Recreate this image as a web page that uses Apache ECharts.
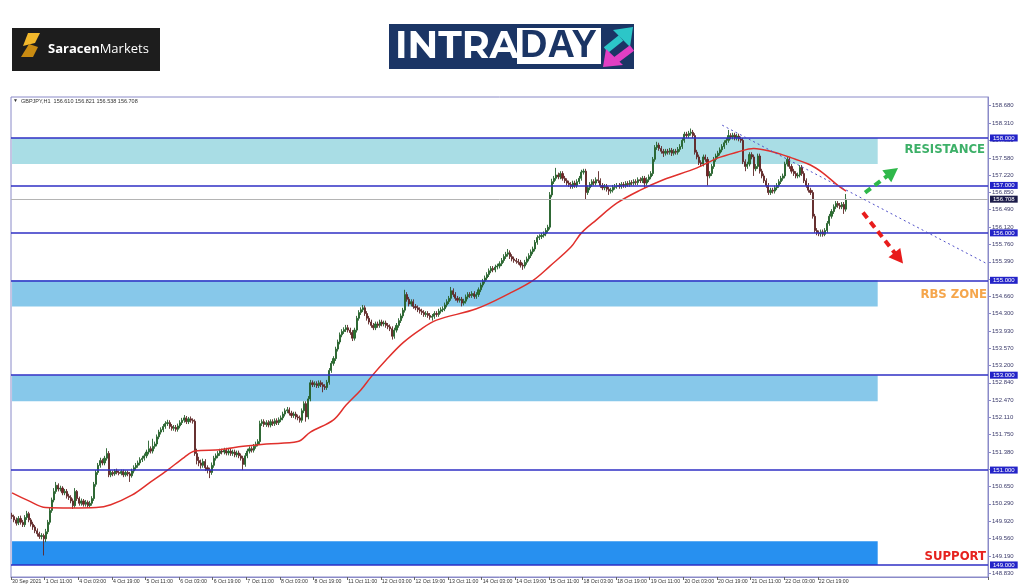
<!DOCTYPE html>
<html><head><meta charset="utf-8">
<script src="https://cdn.jsdelivr.net/npm/echarts@6/dist/echarts.min.js"></script>
<style>html,body{margin:0;padding:0;background:#fff}#c{width:1024px;height:587px}</style>
</head><body><div id="c"></div><script>
// ---- data ----
const xLabels = ["30 Sep 2021","1 Oct 11:00","4 Oct 03:00","4 Oct 19:00","5 Oct 11:00","6 Oct 03:00","6 Oct 19:00","7 Oct 11:00","8 Oct 03:00","8 Oct 19:00","11 Oct 11:00","12 Oct 03:00","12 Oct 19:00","13 Oct 11:00","14 Oct 03:00","14 Oct 19:00","15 Oct 11:00","18 Oct 03:00","18 Oct 19:00","19 Oct 11:00","20 Oct 03:00","20 Oct 19:00","21 Oct 11:00","22 Oct 03:00","22 Oct 19:00"];
const barsPerLabel = 16;
const totalSlots = 465;

const opens = [
150.05,150.02,149.95,149.88,149.98,149.90,149.85,150.00,150.08,149.95,149.86,149.80,149.72,149.66,149.60,149.62,
149.55,149.70,149.90,150.15,150.37,150.55,150.68,150.60,150.62,150.52,150.55,150.45,150.42,150.35,150.25,150.55,
150.40,150.30,150.35,150.28,150.32,150.25,150.30,150.40,150.70,150.95,151.10,151.20,151.15,151.25,151.35,150.90,
150.95,150.92,150.98,150.95,150.93,150.97,150.90,150.95,150.92,150.88,150.98,151.05,151.10,151.15,151.22,151.25,
151.30,151.38,151.45,151.40,151.50,151.55,151.70,151.80,151.85,151.92,151.98,152.00,151.92,151.88,151.90,151.86,
151.93,152.00,152.05,152.10,152.02,152.08,152.05,152.03,151.35,151.20,151.15,151.10,151.18,151.05,151.00,150.95,
151.10,151.25,151.30,151.35,151.40,151.38,151.42,151.36,151.40,151.35,151.38,151.32,151.36,151.30,151.25,151.12,
151.30,151.40,151.45,151.42,151.50,151.55,151.60,151.98,152.02,151.96,152.00,151.95,152.02,151.98,152.04,152.00,
152.06,152.10,152.18,152.25,152.27,152.20,152.15,152.18,152.12,152.10,152.05,152.25,152.40,152.12,152.50,152.84,
152.80,152.82,152.78,152.84,152.80,152.76,152.74,152.85,153.10,153.25,153.35,153.55,153.70,153.85,153.92,153.96,
154.00,153.95,153.90,153.78,153.95,154.20,154.32,154.38,154.42,154.30,154.20,154.12,154.05,154.00,154.08,154.05,
154.12,154.08,154.10,154.05,154.02,153.98,153.82,153.95,154.05,154.15,154.25,154.37,154.70,154.60,154.50,154.55,
154.45,154.42,154.38,154.35,154.32,154.28,154.30,154.26,154.22,154.24,154.30,154.28,154.35,154.38,154.40,154.48,
154.55,154.62,154.78,154.70,154.62,154.58,154.60,154.52,154.56,154.65,154.70,154.68,154.72,154.66,154.70,154.80,
154.90,154.98,155.05,155.12,155.20,155.25,155.22,155.28,155.30,155.35,155.42,155.50,155.55,155.58,155.50,155.45,
155.42,155.40,155.38,155.32,155.30,155.38,155.45,155.52,155.60,155.66,155.80,155.90,155.92,155.95,155.98,156.05,
156.12,156.80,157.08,157.15,157.22,157.18,157.25,157.15,157.10,157.05,157.02,156.98,157.05,157.00,157.08,157.15,
157.28,157.30,156.85,156.95,157.02,157.08,157.05,157.12,157.10,157.00,156.95,156.98,156.92,156.88,156.90,156.96,
156.98,157.00,156.98,157.02,157.00,157.04,157.02,157.06,157.05,157.08,157.06,157.12,157.10,157.15,157.05,157.12,
157.18,157.25,157.55,157.80,157.85,157.78,157.72,157.68,157.72,157.70,157.74,157.68,157.72,157.70,157.76,157.82,
157.95,158.08,158.05,158.10,158.12,158.05,157.70,157.60,157.48,157.45,157.60,157.55,157.20,157.25,157.40,157.55,
157.62,157.68,157.75,157.82,157.90,157.95,158.05,158.02,158.06,158.00,158.04,157.98,157.95,157.50,157.40,157.45,
157.65,157.60,157.35,157.40,157.62,157.30,157.20,157.10,157.00,156.85,156.90,156.88,156.95,157.00,157.08,157.15,
157.20,157.45,157.55,157.40,157.30,157.25,157.20,157.22,157.38,157.25,157.10,157.00,156.90,156.85,156.35,156.05,
156.00,155.98,156.02,155.97,156.05,156.20,156.35,156.45,156.55,156.62,156.58,156.55,156.60,156.50
];
const closes = [
150.02,149.95,149.88,149.98,149.90,149.85,150.00,150.08,149.95,149.86,149.80,149.72,149.66,149.60,149.62,149.55,
149.70,149.90,150.15,150.37,150.55,150.68,150.60,150.62,150.52,150.55,150.45,150.42,150.35,150.25,150.55,150.40,
150.30,150.35,150.28,150.32,150.25,150.30,150.40,150.70,150.95,151.10,151.20,151.15,151.25,151.35,150.90,150.95,
150.92,150.98,150.95,150.93,150.97,150.90,150.95,150.92,150.88,150.98,151.05,151.10,151.15,151.22,151.25,151.30,
151.38,151.45,151.40,151.50,151.55,151.70,151.80,151.85,151.92,151.98,152.00,151.92,151.88,151.90,151.86,151.93,
152.00,152.05,152.10,152.02,152.08,152.05,152.03,151.35,151.20,151.15,151.10,151.18,151.05,151.00,150.95,151.10,
151.25,151.30,151.35,151.40,151.38,151.42,151.36,151.40,151.35,151.38,151.32,151.36,151.30,151.25,151.12,151.30,
151.40,151.45,151.42,151.50,151.55,151.60,151.98,152.02,151.96,152.00,151.95,152.02,151.98,152.04,152.00,152.06,
152.10,152.18,152.25,152.27,152.20,152.15,152.18,152.12,152.10,152.05,152.25,152.40,152.12,152.50,152.84,152.80,
152.82,152.78,152.84,152.80,152.76,152.74,152.85,153.10,153.25,153.35,153.55,153.70,153.85,153.92,153.96,154.00,
153.95,153.90,153.78,153.95,154.20,154.32,154.38,154.42,154.30,154.20,154.12,154.05,154.00,154.08,154.05,154.12,
154.08,154.10,154.05,154.02,153.98,153.82,153.95,154.05,154.15,154.25,154.37,154.70,154.60,154.50,154.55,154.45,
154.42,154.38,154.35,154.32,154.28,154.30,154.26,154.22,154.24,154.30,154.28,154.35,154.38,154.40,154.48,154.55,
154.62,154.78,154.70,154.62,154.58,154.60,154.52,154.56,154.65,154.70,154.68,154.72,154.66,154.70,154.80,154.90,
154.98,155.05,155.12,155.20,155.25,155.22,155.28,155.30,155.35,155.42,155.50,155.55,155.58,155.50,155.45,155.42,
155.40,155.38,155.32,155.30,155.38,155.45,155.52,155.60,155.66,155.80,155.90,155.92,155.95,155.98,156.05,156.12,
156.80,157.08,157.15,157.22,157.18,157.25,157.15,157.10,157.05,157.02,156.98,157.05,157.00,157.08,157.15,157.28,
157.30,156.85,156.95,157.02,157.08,157.05,157.12,157.10,157.00,156.95,156.98,156.92,156.88,156.90,156.96,156.98,
157.00,156.98,157.02,157.00,157.04,157.02,157.06,157.05,157.08,157.06,157.12,157.10,157.15,157.05,157.12,157.18,
157.25,157.55,157.80,157.85,157.78,157.72,157.68,157.72,157.70,157.74,157.68,157.72,157.70,157.76,157.82,157.95,
158.08,158.05,158.10,158.12,158.05,157.70,157.60,157.48,157.45,157.60,157.55,157.20,157.25,157.40,157.55,157.62,
157.68,157.75,157.82,157.90,157.95,158.05,158.02,158.06,158.00,158.04,157.98,157.95,157.50,157.40,157.45,157.65,
157.60,157.35,157.40,157.62,157.30,157.20,157.10,157.00,156.85,156.90,156.88,156.95,157.00,157.08,157.15,157.20,
157.45,157.55,157.40,157.30,157.25,157.20,157.22,157.38,157.25,157.10,157.00,156.90,156.85,156.35,156.05,156.00,
155.98,156.02,155.97,156.05,156.20,156.35,156.45,156.55,156.62,156.58,156.55,156.60,156.50,156.71
];
const lows = [
149.97,149.90,149.83,149.84,149.85,149.80,149.80,149.95,149.90,149.81,149.74,149.67,149.60,149.55,149.54,149.20,
149.48,149.65,149.85,150.10,150.32,150.50,150.55,150.55,150.47,150.47,150.40,150.37,150.30,150.18,150.20,150.35,
150.25,150.25,150.23,150.23,150.20,150.20,150.25,150.35,150.65,150.90,151.05,151.10,151.10,151.20,150.85,150.85,
150.87,150.88,150.91,150.89,150.89,150.85,150.86,150.87,150.75,150.84,150.93,151.00,151.05,151.10,151.17,151.20,
151.25,151.33,151.35,151.35,151.45,151.50,151.65,151.75,151.80,151.87,151.93,151.87,151.83,151.83,151.81,151.81,
151.88,151.95,152.00,151.97,151.97,152.00,151.98,151.30,151.12,151.08,151.03,151.05,150.98,150.93,150.83,150.90,
151.05,151.20,151.25,151.30,151.33,151.33,151.31,151.31,151.30,151.30,151.27,151.27,151.25,151.20,151.00,151.07,
151.25,151.35,151.37,151.37,151.45,151.50,151.55,151.93,151.91,151.91,151.90,151.90,151.93,151.93,151.95,151.95,
152.01,152.05,152.13,152.20,152.15,152.10,152.10,152.07,152.05,152.00,152.00,152.20,152.02,152.07,152.45,152.75,
152.75,152.73,152.73,152.75,152.64,152.69,152.69,152.80,153.05,153.20,153.30,153.50,153.65,153.80,153.87,153.91,
153.90,153.85,153.72,153.73,153.90,154.15,154.27,154.33,154.25,154.15,154.07,154.00,153.95,153.95,154.00,154.00,
154.03,154.03,154.00,153.97,153.93,153.75,153.77,153.90,154.00,154.10,154.20,154.32,154.55,154.45,154.45,154.40,
154.37,154.33,154.30,154.27,154.23,154.23,154.21,154.17,154.15,154.19,154.23,154.23,154.30,154.33,154.35,154.43,
154.50,154.57,154.65,154.57,154.53,154.53,154.45,154.47,154.51,154.60,154.63,154.63,154.61,154.61,154.65,154.75,
154.85,154.93,155.00,155.07,155.15,155.17,155.17,155.23,155.25,155.30,155.37,155.45,155.50,155.45,155.40,155.37,
155.35,155.33,155.27,155.22,155.25,155.33,155.40,155.47,155.55,155.61,155.75,155.85,155.87,155.90,155.93,156.00,
156.07,156.75,157.03,157.10,157.13,157.13,157.10,157.05,157.00,156.97,156.93,156.93,156.95,156.95,157.03,157.10,
157.23,156.70,156.80,156.90,156.97,157.00,157.00,157.05,156.95,156.90,156.90,156.87,156.80,156.83,156.85,156.91,
156.93,156.93,156.93,156.95,156.95,156.97,156.97,157.00,157.00,157.01,157.01,157.05,157.05,156.95,157.00,157.07,
157.13,157.20,157.50,157.75,157.73,157.67,157.60,157.63,157.65,157.65,157.62,157.63,157.65,157.65,157.71,157.77,
157.90,158.00,158.00,158.05,158.00,157.65,157.55,157.43,157.40,157.40,157.50,157.00,157.15,157.20,157.35,157.50,
157.57,157.63,157.70,157.77,157.85,157.90,157.97,157.97,157.95,157.95,157.93,157.90,157.45,157.30,157.35,157.40,
157.55,157.20,157.30,157.35,157.25,157.15,157.05,156.95,156.80,156.80,156.83,156.83,156.90,156.95,157.03,157.10,
157.15,157.40,157.35,157.25,157.20,157.15,157.15,157.17,157.20,157.05,156.95,156.85,156.80,156.30,156.00,155.95,
155.93,155.92,155.92,155.93,156.00,156.15,156.30,156.40,156.50,156.53,156.50,156.50,156.40,156.45
];
const highs = [
150.10,150.06,150.00,150.03,150.04,149.95,150.05,150.14,150.12,149.99,149.91,149.84,149.77,149.70,149.67,149.66,
149.76,149.95,150.20,150.42,150.62,150.75,150.72,150.67,150.66,150.60,150.60,150.50,150.47,150.40,150.62,150.58,
150.44,150.40,150.39,150.37,150.36,150.35,150.45,150.75,151.00,151.15,151.26,151.24,151.30,151.46,151.40,151.00,
150.99,151.02,151.03,150.99,151.01,151.01,150.99,150.99,150.96,151.03,151.10,151.15,151.20,151.27,151.30,151.35,
151.43,151.62,151.50,151.66,151.60,151.75,151.85,151.90,151.97,152.03,152.06,152.05,151.97,151.95,151.95,151.98,
152.05,152.10,152.16,152.14,152.12,152.13,152.09,152.07,151.45,151.28,151.22,151.24,151.23,151.10,151.05,151.16,
151.30,151.35,151.40,151.45,151.45,151.47,151.47,151.45,151.45,151.43,151.43,151.41,151.41,151.35,151.30,151.36,
151.45,151.50,151.50,151.55,151.60,151.65,152.04,152.07,152.07,152.05,152.05,152.07,152.07,152.09,152.09,152.11,
152.15,152.23,152.30,152.33,152.32,152.25,152.23,152.23,152.17,152.15,152.30,152.45,152.45,152.56,152.90,152.89,
152.87,152.87,152.89,152.89,152.85,152.81,152.90,153.15,153.30,153.40,153.60,153.75,153.90,153.97,154.01,154.06,
154.06,154.00,153.95,154.00,154.25,154.37,154.43,154.48,154.47,154.35,154.25,154.17,154.10,154.13,154.13,154.17,
154.17,154.15,154.15,154.10,154.07,154.03,154.00,154.10,154.20,154.30,154.42,154.80,154.75,154.65,154.60,154.60,
154.50,154.47,154.43,154.40,154.37,154.35,154.35,154.31,154.29,154.35,154.35,154.40,154.43,154.45,154.53,154.60,
154.67,154.86,154.83,154.75,154.67,154.65,154.65,154.61,154.70,154.75,154.75,154.77,154.77,154.75,154.85,154.95,
155.03,155.10,155.17,155.25,155.30,155.30,155.33,155.35,155.40,155.47,155.55,155.60,155.66,155.63,155.55,155.50,
155.47,155.45,155.43,155.37,155.43,155.50,155.57,155.65,155.71,155.85,155.95,155.97,156.00,156.03,156.10,156.17,
156.86,157.14,157.20,157.37,157.27,157.30,157.30,157.20,157.15,157.10,157.07,157.10,157.10,157.13,157.20,157.33,
157.35,157.35,157.00,157.07,157.13,157.13,157.17,157.30,157.15,157.05,157.03,157.03,156.97,156.95,157.01,157.03,
157.05,157.05,157.07,157.07,157.09,157.09,157.11,157.11,157.13,157.13,157.17,157.17,157.20,157.20,157.17,157.23,
157.30,157.60,157.85,157.92,157.90,157.83,157.77,157.77,157.77,157.79,157.79,157.77,157.77,157.81,157.87,158.00,
158.13,158.13,158.15,158.20,158.17,158.10,157.75,157.65,157.53,157.65,157.65,157.60,157.30,157.45,157.60,157.67,
157.73,157.80,157.87,157.95,158.00,158.17,158.10,158.11,158.11,158.09,158.09,158.03,158.00,157.55,157.50,157.70,
157.70,157.65,157.45,157.67,157.67,157.35,157.25,157.15,157.05,156.95,156.95,157.00,157.05,157.13,157.20,157.25,
157.50,157.60,157.60,157.45,157.35,157.30,157.27,157.43,157.43,157.30,157.15,157.05,156.95,156.90,156.40,156.10,
156.05,156.07,156.07,156.10,156.25,156.40,156.50,156.60,156.67,156.67,156.63,156.65,156.65,156.82
];
// moving average as [bar index, value]
const maPoints = [[0,150.52],[8,150.35],[16,150.21],[28,150.2],[40,150.21],[47,150.27],[57,150.47],[66,150.75],[74,151.0],[82,151.27],[87,151.4],[99,151.43],[110,151.5],[121,151.55],[136,151.6],[142,151.8],[153,152.06],[159,152.37],[166,152.69],[171,152.97],[178,153.32],[186,153.68],[194,153.95],[202,154.16],[221,154.4],[237,154.73],[248,155.0],[256,155.3],[266,155.7],[271,156.0],[278,156.27],[288,156.63],[299,156.9],[310,157.12],[326,157.37],[336,157.58],[345,157.7],[353,157.78],[361,157.72],[371,157.58],[380,157.43],[386,157.26],[393,157.0],[397,156.88]];
const yTicks = [158.680,158.310,157.950,157.580,157.220,156.850,156.490,156.120,155.760,155.390,155.030,154.660,154.300,153.930,153.570,153.200,152.840,152.470,152.110,151.750,151.380,151.020,150.650,150.290,149.920,149.560,149.190,148.830];
const levelLines = [158.000,157.000,156.000,155.000,153.000,151.000,149.000];
const currentPrice = 156.708;
const zoneBands = [[158.0,157.45,'#a9dde5'],[155.0,154.45,'#87c8ea'],[153.0,152.45,'#87c8ea'],[149.5,149.0,'#2790f0']];
const zoneEndBar = 412;
const trendLine = [[338,158.27],[464,155.35]];
const upArrow = [[406,156.85],[419,157.28]];
const downArrow = [[405,156.43],[422,155.47]];
const headerText = 'GBPJPY,H1  156.610 156.821 156.538 156.708';

// ---- chart ----
const cats = Array.from({length: totalSlots}, (_, i) => String(i));
const candles = opens.map((o, i) => [o, closes[i], lows[i], highs[i]]);
const showIdx = (i) => i % barsPerLabel === 0 && i / barsPerLabel < xLabels.length;

const levelItems = levelLines.map(v => ({
  yAxis: v,
  lineStyle: {color: '#2f2fc4', width: 1.5, type: 'solid'},
  label: {show: true, position: 'end', distance: 2, formatter: v.toFixed(3), color: '#fff', backgroundColor: '#2323c8', padding: [1, 3, 0, 3], fontSize: 6, fontFamily: 'Liberation Sans'}
}));
levelItems.push({
  yAxis: currentPrice,
  lineStyle: {color: '#b4b4b4', width: 1, type: 'solid'},
  label: {show: true, position: 'end', distance: 2, formatter: currentPrice.toFixed(3), color: '#fff', backgroundColor: '#1c1c4a', padding: [1, 3, 0, 3], fontSize: 6, fontFamily: 'Liberation Sans'}
});
levelItems.push([
  {coord: trendLine[0], symbol: 'none', lineStyle: {color: '#5050c8', width: 1, type: [2, 3]}, label: {show: false}},
  {coord: trendLine[1], symbol: 'none'}
]);
levelItems.push([
  {coord: upArrow[0], symbol: 'none', lineStyle: {color: '#2fb84a', width: 4, type: [7, 5]}, label: {show: false}},
  {coord: upArrow[1], symbol: 'triangle', symbolSize: [15, 14]}
]);
levelItems.push([
  {coord: downArrow[0], symbol: 'none', lineStyle: {color: '#e81c1c', width: 4, type: [7, 5]}, label: {show: false}},
  {coord: downArrow[1], symbol: 'triangle', symbolSize: [15, 14]}
]);

const zoneItems = zoneBands.map(z => [
  {xAxis: 0, yAxis: z[0], itemStyle: {color: z[2], opacity: 1}},
  {xAxis: zoneEndBar, yAxis: z[1]}
]);

const chart = echarts.init(document.getElementById('c'), null, {renderer: 'canvas'});
chart.setOption({
  animation: false,
  backgroundColor: '#ffffff',
  textStyle: {fontFamily: 'Liberation Sans'},
  grid: {left: 11, top: 97, right: 36, bottom: 10, show: true, borderColor: '#8a8ac8', borderWidth: 1, backgroundColor: '#ffffff'},
  xAxis: {
    type: 'category', data: cats, boundaryGap: true,
    axisLine: {show: true, lineStyle: {color: '#8a8ac8'}},
    axisTick: {show: true, interval: (i) => showIdx(i), length: 3, lineStyle: {color: '#666'}},
    axisLabel: {interval: (i) => showIdx(i), showMinLabel: true, hideOverlap: false, formatter: (v, i) => xLabels[Math.round(i / barsPerLabel)] || '', fontSize: 5.2, color: '#333', align: 'left', margin: 2},
    splitLine: {show: false}
  },
  yAxis: {
    type: 'value', position: 'right', min: 148.746, max: 158.864,
    splitLine: {show: false},
    axisLine: {show: true, lineStyle: {color: '#8a8ac8'}},
    axisTick: {show: true, length: 3, customValues: yTicks, lineStyle: {color: '#8a8ac8'}},
    axisLabel: {customValues: yTicks, formatter: (v) => v.toFixed(3), fontSize: 6, color: '#3b3b6b', margin: 4}
  },
  series: [
    {
      type: 'candlestick', data: candles, barWidth: 1.6, z: 3,
      itemStyle: {color: '#2b7a2f', color0: '#7a2222', borderColor: '#24602a', borderColor0: '#5e2626', borderWidth: 0.9},
      markArea: {silent: true, z: 1, data: zoneItems},
      markLine: {silent: true, symbol: 'none', z: 6, animation: false, data: levelItems}
    },
    {
      type: 'line', data: maPoints, smooth: 0.35, showSymbol: false, z: 5,
      lineStyle: {color: '#e0302c', width: 1.5}
    }
  ],
  graphic: [
    // Saracen Markets logo
    {type: 'rect', shape: {x: 12, y: 28, width: 148, height: 43}, style: {fill: '#1d1d1d'}},
    {type: 'polygon', shape: {points: [[28, 33], [40, 33], [35, 43], [23, 46]]}, style: {fill: '#f2b82c'}},
    {type: 'polygon', shape: {points: [[29, 44], [38, 47], [33, 57], [21, 57]]}, style: {fill: '#c98b12'}},
    {type: 'text', style: {x: 48, y: 49, text: '{a|Saracen}{b|Markets}', verticalAlign: 'middle',
      rich: {a: {fontFamily: 'Open Sans', fontWeight: 'bold', fontSize: 13, fill: '#ffffff'}, b: {fontFamily: 'Open Sans', fontSize: 13, fill: '#ffffff'}}}},
    // INTRADAY logo
    {type: 'rect', shape: {x: 389, y: 24, width: 245, height: 45}, style: {fill: '#1b3565'}},
    {type: 'text', style: {x: 395, y: 47, text: 'INTRA', verticalAlign: 'middle', fontFamily: 'Montserrat, Liberation Sans', fontWeight: 'bold', fontSize: 38, fill: '#ffffff'}},
    {type: 'rect', shape: {x: 517, y: 28, width: 84, height: 36}, style: {fill: '#ffffff'}},
    {type: 'text', style: {x: 520, y: 47, text: 'DAY', verticalAlign: 'middle', fontFamily: 'Liberation Sans', fontWeight: 'bold', fontSize: 38, fill: '#1b3565'}},
    {type: 'line', shape: {x1: 606, y1: 50, x2: 621, y2: 38}, style: {stroke: '#2cc6c8', lineWidth: 7}},
    {type: 'polygon', shape: {points: [[633, 27], [613, 30], [630, 47]]}, style: {fill: '#2cc6c8'}},
    {type: 'line', shape: {x1: 632, y1: 48, x2: 616, y2: 60}, style: {stroke: '#e23fc4', lineWidth: 7}},
    {type: 'polygon', shape: {points: [[603, 67], [606, 49], [623, 65]]}, style: {fill: '#e23fc4'}},
    // header
    {type: 'text', style: {x: 13, y: 101, text: '\u25BC', verticalAlign: 'middle', fontSize: 5, fill: '#333'}},
    {type: 'text', style: {x: 21, y: 101, text: headerText, verticalAlign: 'middle', fontSize: 5.5, fill: '#333', fontFamily: 'Liberation Sans'}},
    // zone labels
    {type: 'text', z: 10, style: {x: 985, y: 150, text: 'RESISTANCE', align: 'right', verticalAlign: 'middle', fontFamily: 'DejaVu Sans Condensed', fontWeight: 'bold', fontSize: 13, fill: '#3db068'}},
    {type: 'text', z: 10, style: {x: 987, y: 295, text: 'RBS ZONE', align: 'right', verticalAlign: 'middle', fontFamily: 'DejaVu Sans Condensed', fontWeight: 'bold', fontSize: 13, fill: '#f5a64c'}},
    {type: 'text', z: 10, style: {x: 986, y: 557, text: 'SUPPORT', align: 'right', verticalAlign: 'middle', fontFamily: 'DejaVu Sans Condensed', fontWeight: 'bold', fontSize: 13, fill: '#e6221e'}}
  ]
});
</script></body></html>
